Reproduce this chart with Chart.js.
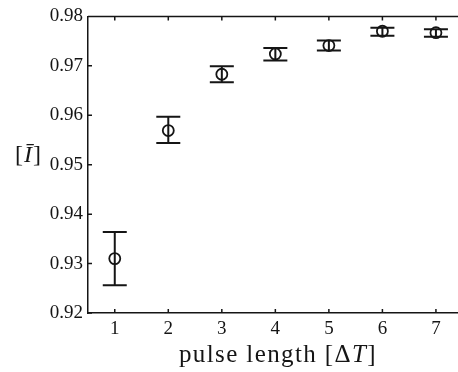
<!DOCTYPE html>
<html>
<head>
<meta charset="UTF-8">
<title>pulse length</title>
<script src="https://cdn.jsdelivr.net/npm/chart.js"></script>
<style>
body{
  margin:0;
  overflow:hidden;
  background:white;
}
</style>
</head>
<body>
<canvas id="chart" width="470" height="372"></canvas>
<script>

// data
const pulseLength = ["1","2","3","4","5","6","7"];
const meanI  = [0.9310, 0.9569, 0.9683, 0.9724, 0.9741, 0.9770, 0.9767];
const lowerI = [0.9256, 0.9544, 0.9667, 0.9711, 0.9731, 0.9761, 0.9759];
const upperI = [0.9364, 0.9597, 0.9699, 0.9736, 0.9751, 0.9777, 0.9774];
const yTicks = [0.92, 0.93, 0.94, 0.95, 0.96, 0.97, 0.98];

const ink = "#151515";
const serif = "'Liberation Serif', 'DejaVu Serif', serif";

// error bars under the circles
const errorBars = {
  id:'errorBars',
  beforeDatasetsDraw(chart){
    const {ctx, scales:{x,y}} = chart;
    ctx.save();
    ctx.strokeStyle = ink;
    ctx.lineWidth = 2;
    pulseLength.forEach((p,i)=>{
      const px = x.getPixelForValue(i);
      const lo = y.getPixelForValue(lowerI[i]);
      const hi = y.getPixelForValue(upperI[i]);
      ctx.beginPath();
      ctx.moveTo(px,lo); ctx.lineTo(px,hi);
      ctx.moveTo(px-12,lo); ctx.lineTo(px+12,lo);
      ctx.moveTo(px-12,hi); ctx.lineTo(px+12,hi);
      ctx.stroke();
    });
    ctx.restore();
  }
};

// matlab style box: top line, inward ticks, axis labels
const frame = {
  id:'frame',
  afterDraw(chart){
    const {ctx, chartArea:a, scales:{x,y}} = chart;
    ctx.save();
    ctx.strokeStyle = ink;
    ctx.lineWidth = 1.5;
    ctx.beginPath();
    ctx.moveTo(a.left,a.top); ctx.lineTo(a.right,a.top);
    pulseLength.forEach((p,i)=>{
      const px = x.getPixelForValue(i);
      ctx.moveTo(px,a.bottom); ctx.lineTo(px,a.bottom-4);
      ctx.moveTo(px,a.top); ctx.lineTo(px,a.top+4);
    });
    yTicks.forEach(v=>{
      const py = y.getPixelForValue(v);
      ctx.moveTo(a.left,py); ctx.lineTo(a.left+4,py);
    });
    ctx.stroke();

    ctx.fillStyle = ink;
    ctx.textBaseline = 'middle';
    ctx.textAlign = 'left';

    // x label: pulse length [ΔT]
    const parts = [["pulse length [\u0394",""],["T","italic "],["]",""]];
    ctx.letterSpacing = "1.4px";
    let w = 0;
    parts.forEach(p=>{ ctx.font = p[1]+"25px "+serif; w += ctx.measureText(p[0]).width; });
    let tx = 278 - w/2;
    parts.forEach(p=>{
      ctx.font = p[1]+"25px "+serif;
      ctx.fillText(p[0],tx,355);
      tx += ctx.measureText(p[0]).width;
    });
    ctx.letterSpacing = "0px";

    // y label: [Ī]
    ctx.font = "24px "+serif;
    ctx.fillText("[",15,156);
    let bx = 15 + ctx.measureText("[").width;
    ctx.font = "italic 24px "+serif;
    ctx.fillText("\u012A",bx+1,156);
    bx += ctx.measureText("\u012A").width + 2;
    ctx.font = "24px "+serif;
    ctx.fillText("]",bx,156);
    ctx.restore();
  }
};

new Chart(document.getElementById("chart"),{
  type:'line',
  data:{
    labels:pulseLength,
    datasets:[{
      data:meanI,
      showLine:false,
      pointStyle:'circle',
      pointRadius:5.5,
      pointHoverRadius:5.5,
      pointBorderWidth:1.8,
      pointBorderColor:ink,
      pointBackgroundColor:'rgba(0,0,0,0)'
    }]
  },
  options:{
    responsive:false,
    animation:false,
    events:[],
    layout:{padding:{top:15,right:7,left:0,bottom:0}},
    plugins:{legend:{display:false},tooltip:{enabled:false}},
    scales:{
      x:{
        type:'category',
        offset:true,
        grid:{display:false,drawTicks:false},
        border:{display:true,color:ink,width:1.5},
        ticks:{color:ink,padding:5,font:{family:serif,size:19},maxRotation:0},
        afterFit(s){ s.height = 59; }
      },
      y:{
        min:0.92,
        max:0.98,
        grid:{display:false,drawTicks:false},
        border:{display:true,color:ink,width:1.5},
        afterBuildTicks(s){ s.ticks = yTicks.map(v=>({value:v})); },
        ticks:{color:ink,padding:5,font:{family:serif,size:19},callback:v=>v.toFixed(2)},
        afterFit(s){ s.width = 88; }
      }
    }
  },
  plugins:[errorBars,frame]
});

</script>
</body>
</html>
